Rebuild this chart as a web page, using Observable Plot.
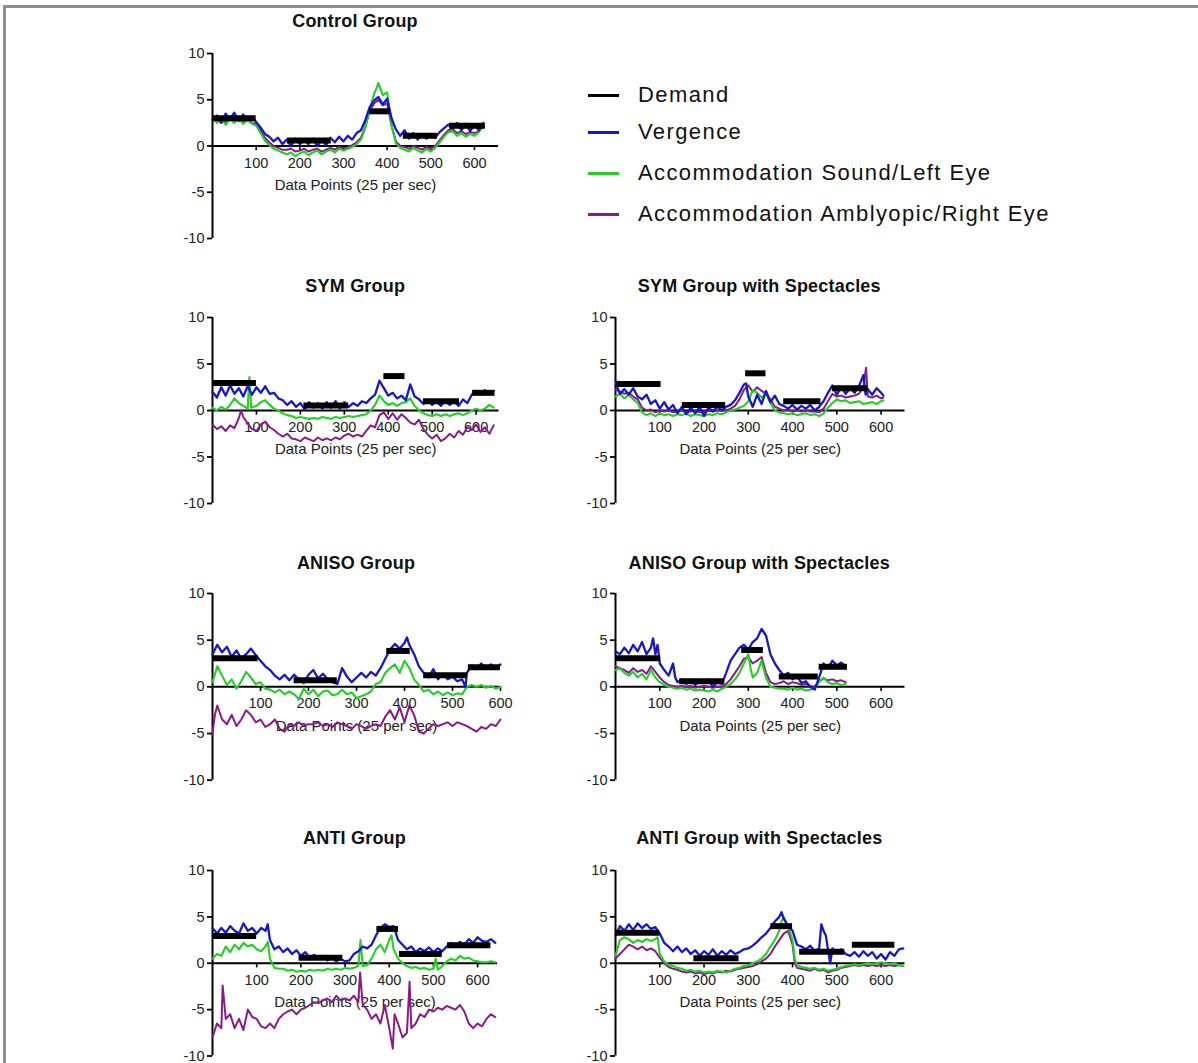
<!DOCTYPE html>
<html>
<head>
<meta charset="utf-8">
<script src="https://cdn.jsdelivr.net/npm/d3@7"></script>
<script src="https://cdn.jsdelivr.net/npm/@observablehq/plot@0.6"></script>
<style>
  html, body { margin: 0; padding: 0; background: #fff; }
  #page { position: relative; width: 1198px; height: 1063px; overflow: hidden; font-family: 'Liberation Sans', Arial, sans-serif; }
  #frame { position: absolute; left: 3px; top: 5px; width: 1300px; height: 1200px; border-top: 3px solid #8e8e8e; border-left: 3px solid #8e8e8e; }
  .title { position: absolute; width: 400px; text-align: center; font-weight: bold; font-size: 18px; line-height: 22px; color: #111; letter-spacing: 0.2px; }
  .panel { position: absolute; }
  .leg { position: absolute; left: 588px; height: 40px; }
  .leg .sw { position: absolute; left: 0; width: 31px; height: 3px; }
  .leg .lab { position: absolute; left: 50px; font-size: 22px; letter-spacing: 1.4px; color: #111; white-space: nowrap; line-height: 26px; }
</style>
</head>
<body>
<div id="page"><div id="frame"></div></div>
<script>
// ---------- series colours / names ----------
const seriesNames = ["Demand", "Vergence", "Accommodation Sound/Left Eye", "Accommodation Amblyopic/Right Eye"];
const seriesColors = ["#000000", "#1616d0", "#22d022", "#8a1a8a"];
const yTicks = [-10, -5, 0, 5, 10];
const xTicks = [100, 200, 300, 400, 500, 600];
const xLabel = "Data Points (25 per sec)";

// ---------- Control Group ----------
const controlV = [[0,2.8],[10,3.3],[20,2.5],[30,3.5],[40,2.9],[50,3.6],[60,2.7],[70,3.4],[80,2.8],[90,3.2],[100,2.6],[110,2.0],[120,1.3],[130,1.0],[140,0.5],[150,0.9],[160,0.2],[170,0.7],[180,0.0],[190,0.8],[200,0.2],[210,0.7],[220,0.2],[230,0.8],[240,0.0],[250,0.6],[260,0.1],[270,0.9],[280,0.4],[290,1.0],[300,0.5],[310,1.1],[320,0.7],[330,1.4],[340,1.7],[350,2.8],[360,4.2],[370,4.9],[380,5.3],[390,4.5],[400,5.1],[410,3.0],[420,1.8],[430,1.1],[440,1.7],[450,0.8],[460,1.4],[470,0.7],[480,1.3],[490,0.8],[500,1.2],[510,0.9],[520,1.5],[530,1.9],[540,2.3],[550,1.9],[560,2.5],[570,1.7],[580,2.4],[590,1.6],[600,2.3],[610,1.7],[620,2.5]];
const controlS = [[0,3.1],[10,2.5],[20,2.9],[30,2.3],[40,2.9],[50,2.5],[60,3.0],[70,2.4],[80,2.8],[90,2.4],[100,2.2],[110,1.4],[120,0.6],[130,0.1],[140,-0.3],[150,-0.5],[160,-0.7],[170,-0.9],[180,-0.7],[190,-1.1],[200,-0.8],[210,-0.6],[220,-1.0],[230,-0.7],[240,-0.5],[250,-0.9],[260,-0.6],[270,-0.4],[280,-0.7],[290,-0.3],[300,-0.5],[310,-0.3],[320,-0.1],[330,0.2],[340,0.7],[350,2.0],[360,4.0],[370,5.6],[380,6.8],[390,5.5],[400,5.8],[410,2.3],[420,0.3],[430,-0.2],[440,-0.4],[450,-0.6],[460,-0.2],[470,-0.5],[480,-0.7],[490,-0.3],[500,-0.6],[510,-0.2],[520,0.4],[530,1.0],[540,1.5],[550,1.6],[560,1.1],[570,1.4],[580,1.0],[590,1.3],[600,1.1],[610,1.5],[620,2.3]];
const controlA = [[0,2.9],[10,2.7],[20,3.0],[30,2.6],[40,3.0],[50,2.7],[60,3.1],[70,2.6],[80,2.9],[90,2.5],[100,2.4],[110,1.7],[120,0.9],[130,0.4],[140,0.0],[150,-0.2],[160,-0.4],[170,-0.4],[180,-0.3],[190,-0.6],[200,-0.5],[210,-0.3],[220,-0.6],[230,-0.4],[240,-0.3],[250,-0.6],[260,-0.4],[270,-0.2],[280,-0.4],[290,-0.1],[300,-0.3],[310,-0.1],[320,0.1],[330,0.4],[340,0.9],[350,2.1],[360,3.8],[370,4.6],[380,5.0],[390,4.4],[400,4.6],[410,2.2],[420,0.5],[430,0.0],[440,-0.1],[450,-0.3],[460,0.0],[470,-0.2],[480,-0.4],[490,-0.1],[500,-0.3],[510,0.0],[520,0.6],[530,1.2],[540,1.7],[550,1.8],[560,1.4],[570,1.6],[580,1.3],[590,1.5],[600,1.4],[610,1.6],[620,2.1]];
const controlD = [[0,100,3.0],[172,272,0.6],[360,407,3.75],[437,515,1.1],[543,625,2.2]];

// ---------- SYM Group ----------
const symV = [[0,2.0],[10,1.4],[20,2.5],[30,1.6],[40,2.7],[50,1.8],[60,2.4],[70,1.5],[80,2.6],[90,1.7],[100,2.5],[110,1.9],[120,2.6],[130,1.8],[140,1.9],[150,1.3],[160,1.1],[170,0.6],[180,1.0],[190,0.4],[200,0.8],[210,0.1],[220,0.9],[230,0.3],[240,0.8],[250,0.2],[260,0.9],[270,0.3],[280,1.0],[290,0.2],[300,0.9],[310,0.4],[320,0.8],[330,0.5],[340,1.0],[350,0.8],[360,1.3],[370,1.7],[380,3.2],[390,2.4],[400,1.6],[410,1.9],[420,1.3],[430,1.6],[440,1.1],[450,2.8],[460,1.5],[470,1.2],[480,0.7],[490,1.1],[500,0.6],[510,1.0],[520,0.5],[530,1.1],[540,0.6],[550,1.0],[560,0.5],[570,1.2],[580,0.8],[590,1.7],[600,2.1],[610,1.7],[620,2.2],[630,1.8],[640,2.1]];
const symS = [[0,0.3],[10,0.0],[20,0.4],[30,0.1],[40,0.6],[50,1.3],[60,0.8],[70,0.5],[80,0.2],[84,3.6],[88,0.3],[100,0.5],[110,0.9],[120,1.1],[130,0.6],[140,0.2],[150,0.0],[160,-0.3],[170,-0.5],[180,-0.6],[190,-0.8],[200,-0.7],[210,-0.8],[220,-0.9],[230,-0.8],[240,-0.9],[250,-0.7],[260,-0.8],[270,-0.9],[280,-0.7],[290,-0.8],[300,-0.7],[310,-0.6],[320,-0.7],[330,-0.6],[340,-0.5],[350,-0.4],[360,0.0],[370,0.6],[380,1.6],[390,1.0],[400,0.6],[410,0.8],[420,0.5],[430,0.8],[440,0.9],[450,1.3],[460,0.5],[470,0.0],[480,-0.3],[490,-0.5],[500,-0.6],[510,-0.4],[520,-0.6],[530,-0.4],[540,-0.6],[550,-0.4],[560,-0.3],[570,-0.5],[580,-0.3],[590,0.0],[600,0.2],[610,0.0],[620,0.2],[630,0.6],[640,0.3]];
const symA = [[0,-1.5],[10,-2.0],[20,-1.7],[30,-2.2],[40,-1.6],[50,-1.9],[60,-0.8],[65,0.0],[70,-0.7],[80,-1.4],[90,-2.0],[100,-2.2],[110,-1.5],[120,-1.2],[130,-1.8],[140,-2.1],[150,-2.5],[160,-2.8],[170,-2.5],[180,-3.0],[190,-3.1],[200,-3.3],[210,-2.9],[220,-3.1],[230,-3.3],[240,-2.9],[250,-3.2],[260,-3.0],[270,-3.2],[280,-2.9],[290,-3.1],[300,-2.7],[310,-2.5],[320,-2.8],[330,-2.6],[340,-2.8],[350,-2.2],[360,-1.6],[370,-1.8],[380,-0.5],[390,-0.2],[400,-0.9],[410,-0.3],[420,-1.0],[430,-0.4],[440,-0.8],[450,-1.3],[460,-1.5],[470,-1.0],[480,-2.0],[490,-2.6],[500,-3.0],[510,-2.6],[520,-3.3],[530,-3.0],[540,-2.5],[550,-2.9],[560,-2.2],[570,-2.6],[580,-1.8],[590,-2.1],[600,-1.5],[610,-2.3],[620,-1.8],[630,-2.5],[640,-1.6]];
const symD = [[0,100,2.95],[208,310,0.55],[390,438,3.7],[480,562,1.0],[592,643,1.9]];

// ---------- SYM Group with Spectacles ----------
const symSpV = [[0,3.2],[5,2.4],[10,1.8],[20,2.3],[30,1.7],[40,2.4],[50,1.5],[60,1.2],[70,1.7],[80,0.7],[90,1.1],[100,0.2],[110,0.9],[120,0.1],[130,0.6],[140,-0.3],[150,0.4],[160,-0.4],[170,0.3],[180,-0.3],[190,0.4],[200,-0.6],[210,0.3],[220,-0.1],[230,0.4],[240,0.0],[250,0.4],[260,0.6],[270,1.1],[280,1.9],[290,2.8],[295,2.9],[300,1.5],[310,0.4],[320,1.7],[330,0.7],[340,2.1],[350,0.9],[360,1.6],[370,0.7],[380,0.5],[390,0.2],[400,0.6],[410,0.1],[420,0.5],[430,0.2],[440,0.6],[450,0.0],[460,0.4],[470,1.0],[480,1.9],[490,2.7],[500,1.7],[510,2.5],[520,1.8],[530,2.4],[540,1.9],[550,2.6],[560,3.8],[565,1.7],[570,2.3],[580,1.7],[590,2.4],[600,1.9],[605,1.6]];
const symSpS = [[0,1.5],[10,1.8],[20,1.3],[30,1.7],[40,1.2],[50,0.8],[60,-0.2],[70,-0.5],[80,-0.3],[90,-0.6],[100,-0.3],[110,-0.5],[120,-0.4],[130,-0.6],[140,-0.4],[150,-0.5],[160,-0.3],[170,-0.6],[180,-0.4],[190,-0.5],[200,-0.6],[210,-0.4],[220,-0.5],[230,-0.3],[240,-0.4],[250,-0.2],[260,0.0],[270,0.1],[280,0.3],[290,0.5],[300,1.0],[310,2.2],[320,1.9],[330,1.4],[340,1.8],[350,0.8],[360,0.0],[370,-0.2],[380,-0.3],[390,-0.4],[400,-0.3],[410,-0.5],[420,-0.4],[430,-0.3],[440,-0.5],[450,-0.4],[460,-0.6],[470,-0.3],[480,0.3],[490,0.8],[500,1.2],[510,1.0],[520,1.1],[530,0.8],[540,0.9],[550,1.0],[560,0.7],[570,0.8],[580,0.9],[590,0.7],[600,1.0],[605,1.1]];
const symSpA = [[0,2.3],[10,2.0],[20,1.8],[30,1.9],[40,1.5],[50,1.2],[60,0.3],[70,0.0],[80,0.1],[90,-0.2],[100,0.0],[110,-0.1],[120,0.0],[130,-0.2],[140,-0.1],[150,0.0],[160,-0.2],[170,-0.1],[180,0.0],[190,-0.2],[200,-0.1],[210,0.0],[220,-0.1],[230,0.0],[240,0.1],[250,0.0],[260,0.2],[270,0.5],[280,1.2],[290,2.2],[300,2.7],[310,2.0],[320,2.5],[330,2.1],[340,1.8],[350,1.2],[360,0.4],[370,0.2],[380,0.0],[390,0.1],[400,-0.1],[410,0.0],[420,-0.1],[430,0.0],[440,-0.1],[450,-0.1],[460,-0.2],[470,0.2],[480,1.0],[490,1.8],[500,1.5],[510,1.6],[520,1.4],[530,1.5],[540,1.6],[550,1.8],[560,2.5],[566,4.6],[570,1.5],[580,1.4],[590,1.6],[600,1.3],[605,1.4]];
const symSpD = [[3,103,2.85],[151,249,0.6],[294,340,4.0],[380,464,1.0],[490,570,2.4]];

// ---------- ANISO Group ----------
const anisoV = [[0,3.5],[10,4.5],[20,3.7],[30,4.3],[40,3.2],[50,3.9],[60,3.0],[70,3.5],[80,4.1],[90,3.4],[100,2.8],[110,2.2],[120,1.8],[130,1.2],[140,0.8],[150,1.3],[160,0.7],[170,1.3],[180,0.8],[190,0.4],[200,1.3],[210,1.8],[220,0.9],[230,1.4],[240,0.8],[250,0.5],[260,0.3],[270,2.0],[280,1.1],[290,0.5],[300,1.0],[310,1.5],[320,1.0],[330,1.6],[340,1.2],[350,2.0],[360,3.0],[370,4.0],[380,4.6],[390,4.1],[400,4.7],[405,5.3],[410,4.5],[420,3.5],[430,2.2],[440,1.5],[450,1.0],[460,1.9],[470,0.8],[480,1.4],[490,0.8],[500,1.1],[510,0.6],[520,0.8],[527,0.0],[530,1.5],[540,2.3],[550,1.9],[560,2.5],[570,2.0],[580,2.4],[590,1.9],[600,2.4]];
const anisoS = [[0,0.5],[10,2.2],[20,1.2],[30,0.2],[40,0.8],[50,-0.2],[60,0.6],[70,1.6],[80,1.0],[90,0.3],[100,0.5],[110,-0.2],[120,-0.3],[130,-0.6],[140,-0.3],[150,-0.8],[160,-0.5],[170,-0.8],[180,-1.3],[190,-0.2],[200,-0.8],[210,-0.3],[220,-1.0],[230,-0.5],[240,-0.4],[250,-0.9],[260,-0.8],[270,-0.3],[280,-0.8],[290,-0.6],[300,-1.2],[310,-1.0],[320,-0.8],[330,-0.5],[340,0.3],[350,0.5],[360,1.5],[370,2.0],[380,2.4],[390,1.5],[400,2.8],[410,2.0],[420,0.8],[430,0.2],[440,-0.5],[450,-0.3],[460,-0.8],[470,-0.5],[480,-0.9],[490,-0.6],[500,-0.9],[510,-0.7],[520,-0.8],[530,0.0],[540,0.2],[550,0.0],[560,0.2],[570,-0.1],[580,0.1],[590,-0.2],[600,0.0]];
const anisoA = [[0,-5.0],[5,-3.0],[10,-2.0],[20,-3.5],[30,-4.0],[40,-3.0],[50,-4.2],[60,-3.5],[70,-2.5],[80,-3.0],[90,-3.8],[100,-3.5],[110,-4.3],[120,-4.0],[130,-3.5],[140,-4.5],[150,-4.8],[160,-4.0],[170,-4.2],[180,-3.8],[190,-4.2],[200,-4.0],[210,-4.0],[220,-3.8],[230,-4.2],[240,-4.0],[250,-4.3],[260,-3.8],[270,-4.0],[280,-4.2],[290,-4.5],[300,-4.0],[310,-4.2],[320,-4.5],[330,-4.2],[340,-4.0],[350,-4.2],[360,-3.2],[370,-2.5],[380,-3.5],[390,-2.2],[400,-3.8],[410,-2.0],[420,-3.0],[430,-4.8],[440,-5.0],[450,-4.5],[460,-4.0],[470,-4.2],[480,-4.0],[490,-3.8],[500,-4.2],[510,-3.8],[520,-4.0],[530,-4.2],[540,-4.5],[550,-4.8],[560,-4.3],[570,-4.5],[580,-4.0],[590,-4.2],[600,-3.5]];
const anisoD = [[0,95,3.05],[170,260,0.7],[363,412,3.85],[440,531,1.25],[533,600,2.1]];

// ---------- ANISO Group with Spectacles ----------
const anisoSpV = [[0,3.8],[10,3.5],[20,4.2],[30,3.6],[40,4.5],[50,3.8],[60,4.8],[70,3.5],[80,4.2],[85,5.2],[90,3.5],[95,4.5],[100,2.5],[110,1.8],[120,1.2],[130,2.5],[135,1.0],[140,0.5],[150,0.8],[160,0.3],[170,0.8],[180,0.2],[190,0.6],[200,0.4],[210,0.8],[220,0.0],[230,0.5],[240,0.3],[250,1.5],[260,2.8],[270,3.5],[280,4.2],[290,4.5],[300,4.0],[310,4.8],[320,5.2],[330,6.2],[340,5.5],[350,3.5],[360,2.5],[370,1.8],[380,1.2],[390,1.5],[400,0.8],[410,1.2],[420,0.4],[430,0.6],[440,0.0],[450,-0.3],[460,1.0],[470,2.5],[480,2.0],[490,2.8],[500,2.3],[510,2.6],[520,2.2]];
const anisoSpS = [[0,1.8],[10,2.0],[20,1.5],[30,1.2],[40,1.6],[50,1.0],[60,1.4],[70,0.8],[80,1.8],[90,1.0],[100,0.5],[110,0.2],[120,0.0],[130,-0.1],[140,-0.2],[150,-0.1],[160,-0.3],[170,-0.2],[180,-0.4],[190,-0.3],[200,-0.4],[210,-0.5],[220,-0.3],[230,-0.5],[240,-0.2],[250,0.0],[260,0.3],[270,0.8],[280,1.5],[290,2.5],[300,3.5],[305,2.0],[310,1.0],[320,1.5],[330,2.8],[340,1.0],[350,0.0],[360,-0.1],[370,-0.2],[380,-0.2],[390,-0.3],[400,-0.1],[410,-0.3],[420,-0.2],[430,-0.4],[440,-0.3],[450,-0.2],[460,0.5],[470,1.0],[480,0.5],[490,0.3],[500,0.4],[510,0.2],[520,0.3]];
const anisoSpA = [[0,2.2],[10,2.0],[20,1.8],[30,1.5],[40,2.0],[50,1.6],[60,1.8],[70,1.4],[80,2.2],[90,1.6],[100,1.0],[110,0.5],[120,0.2],[130,0.1],[140,0.0],[150,0.1],[160,0.0],[170,0.1],[180,-0.1],[190,0.0],[200,0.1],[210,0.0],[220,-0.1],[230,0.0],[240,0.0],[250,0.3],[260,0.8],[270,1.5],[280,2.2],[290,3.0],[300,3.2],[310,2.5],[320,2.8],[330,3.2],[340,1.5],[350,0.5],[360,0.3],[370,0.4],[380,0.6],[390,0.3],[400,0.5],[410,0.4],[420,0.2],[430,0.3],[440,0.1],[450,0.0],[460,0.6],[470,0.9],[480,0.7],[490,0.8],[500,0.6],[510,0.7],[520,0.5]];
const anisoSpD = [[2,102,3.05],[145,247,0.6],[285,334,3.95],[370,458,1.1],[460,524,2.15]];

// ---------- ANTI Group ----------
const antiV = [[0,3.8],[10,3.2],[20,3.8],[30,3.3],[40,4.0],[50,3.5],[60,3.2],[70,4.3],[80,3.5],[90,3.8],[100,3.2],[110,3.8],[120,3.5],[125,4.2],[130,2.5],[140,1.5],[150,1.8],[160,1.2],[170,1.6],[180,1.0],[190,1.4],[200,0.8],[210,1.2],[220,0.6],[230,0.9],[240,0.5],[250,0.8],[260,0.3],[270,0.7],[280,0.2],[290,0.5],[300,0.2],[310,0.3],[320,1.0],[330,1.3],[340,1.8],[350,1.6],[360,2.0],[370,3.0],[380,3.8],[390,4.2],[400,3.9],[410,4.0],[420,2.5],[430,2.0],[440,1.5],[450,1.8],[460,1.2],[470,1.6],[480,1.3],[490,1.7],[500,1.2],[510,1.6],[520,1.3],[530,1.8],[540,2.2],[550,1.8],[560,2.3],[570,2.0],[580,2.6],[590,2.2],[600,2.8],[610,2.4],[620,2.3],[630,2.6],[640,2.2]];
const antiS = [[0,0.5],[10,1.0],[20,0.8],[30,1.8],[40,1.2],[50,2.0],[60,1.5],[70,2.2],[80,1.8],[90,2.0],[100,1.5],[110,1.3],[120,1.8],[125,2.3],[130,0.5],[140,-0.5],[150,-0.6],[160,-0.6],[170,-0.8],[180,-0.7],[190,-0.9],[200,-0.8],[210,-0.9],[220,-0.7],[230,-0.8],[240,-0.7],[250,-0.8],[260,-0.6],[270,-0.7],[280,-0.6],[290,-0.7],[300,-0.5],[310,-0.6],[320,-0.5],[330,-0.3],[335,2.5],[340,-0.3],[350,-0.2],[360,0.5],[370,1.5],[380,2.0],[390,1.2],[400,2.5],[405,3.0],[410,1.5],[420,0.5],[430,0.0],[440,-0.3],[450,-0.5],[460,-0.4],[470,-0.6],[480,-0.5],[490,-0.7],[500,-0.6],[505,0.5],[510,-0.7],[520,-0.3],[530,0.2],[540,0.5],[550,0.3],[560,0.8],[570,0.5],[580,0.6],[590,0.3],[600,0.2],[610,0.1],[620,0.1],[630,0.2],[640,0.1]];
const antiA = [[0,-8.0],[10,-6.5],[20,-7.0],[23,-2.4],[30,-6.0],[40,-5.5],[50,-7.0],[60,-6.0],[70,-7.2],[80,-5.0],[90,-5.8],[100,-6.0],[110,-6.8],[120,-7.0],[130,-6.5],[140,-7.0],[150,-6.0],[160,-5.5],[170,-5.2],[180,-5.0],[190,-5.5],[200,-5.0],[210,-4.8],[220,-4.5],[230,-4.2],[240,-4.3],[250,-4.0],[260,-3.8],[270,-4.2],[280,-3.5],[290,-4.0],[300,-3.8],[310,-4.0],[320,-3.5],[330,-4.2],[334,-1.0],[340,-4.5],[350,-5.0],[360,-6.0],[370,-5.5],[380,-6.5],[390,-4.5],[400,-7.0],[408,-9.2],[412,-5.5],[420,-6.5],[430,-8.0],[440,-7.5],[446,-2.0],[450,-7.0],[460,-6.5],[470,-5.5],[480,-5.8],[490,-5.0],[500,-5.2],[510,-4.8],[520,-5.0],[530,-4.6],[540,-4.8],[550,-5.0],[560,-4.5],[570,-5.2],[580,-6.5],[590,-7.0],[600,-6.5],[610,-6.8],[620,-6.0],[630,-5.5],[640,-5.8]];
const antiD = [[0,100,2.95],[196,295,0.6],[372,421,3.7],[423,520,1.0],[532,630,1.95]];

// ---------- ANTI Group with Spectacles ----------
const antiSpV = [[0,3.0],[10,4.0],[20,3.5],[30,4.2],[40,3.6],[50,4.3],[60,3.8],[70,4.2],[80,3.7],[90,3.9],[100,3.2],[110,2.2],[120,1.8],[130,1.3],[140,1.8],[150,1.2],[160,1.6],[170,1.0],[180,1.4],[190,0.8],[200,1.3],[210,0.9],[220,1.5],[230,0.8],[240,1.3],[250,0.9],[260,1.4],[270,1.0],[280,1.2],[290,1.5],[300,1.6],[310,1.9],[320,2.3],[330,2.8],[340,3.2],[350,3.8],[360,4.5],[370,5.0],[375,5.5],[380,4.8],[390,4.0],[400,3.5],[410,2.0],[420,1.8],[430,1.5],[440,1.9],[450,1.3],[460,1.6],[465,4.2],[470,3.5],[475,3.0],[480,1.5],[485,0.0],[490,1.6],[500,1.2],[510,1.5],[520,1.0],[530,0.8],[540,1.2],[550,0.7],[560,1.3],[570,0.8],[580,1.2],[590,0.5],[600,1.0],[610,0.4],[620,1.2],[630,0.8],[640,1.5],[650,1.6]];
const antiSpS = [[0,0.8],[10,2.5],[20,2.8],[30,2.6],[40,2.2],[50,2.5],[60,2.3],[70,2.6],[80,2.4],[90,2.6],[95,2.8],[100,1.0],[110,0.2],[120,-0.2],[130,-0.3],[140,-0.5],[150,-0.6],[160,-0.8],[170,-0.7],[180,-0.9],[190,-0.8],[200,-1.0],[210,-0.9],[220,-1.0],[230,-0.8],[240,-0.9],[250,-1.0],[260,-0.8],[270,-0.6],[280,-0.5],[290,-0.3],[300,-0.2],[310,0.0],[320,0.2],[330,0.5],[340,1.0],[350,1.8],[360,2.5],[370,3.5],[375,4.5],[380,5.0],[390,4.0],[400,2.5],[405,0.5],[410,-0.2],[420,-0.4],[430,-0.5],[440,-0.6],[450,-0.5],[460,-0.7],[470,-0.6],[480,-0.8],[490,-0.7],[500,-0.6],[510,-0.4],[520,-0.3],[530,-0.2],[540,-0.1],[550,-0.2],[560,-0.1],[570,0.0],[580,-0.1],[590,0.0],[600,0.1],[610,0.0],[620,-0.1],[630,0.0],[640,-0.2],[650,-0.3]];
const antiSpA = [[0,0.5],[10,1.0],[20,1.5],[30,2.0],[40,1.8],[50,1.5],[60,1.8],[70,1.4],[80,1.6],[90,1.3],[100,0.6],[110,0.0],[120,-0.4],[130,-0.6],[140,-0.7],[150,-0.9],[160,-1.0],[170,-0.9],[180,-1.1],[190,-1.0],[200,-1.2],[210,-1.0],[220,-1.1],[230,-0.9],[240,-1.0],[250,-0.8],[260,-0.9],[270,-0.7],[280,-0.6],[290,-0.5],[300,-0.4],[310,-0.3],[320,-0.1],[330,0.2],[340,0.5],[350,1.0],[360,1.8],[370,2.5],[380,3.2],[390,3.5],[400,2.0],[405,0.0],[410,-0.5],[420,-0.6],[430,-0.7],[440,-0.8],[450,-0.6],[460,-0.8],[470,-0.7],[480,-1.0],[490,-0.8],[500,-0.7],[510,-0.5],[520,-0.4],[530,-0.3],[540,-0.2],[550,-0.3],[560,-0.2],[570,-0.3],[580,-0.2],[590,-0.3],[600,-0.2],[610,-0.3],[620,-0.2],[630,-0.3],[640,-0.2],[650,-0.3]];
const antiSpD = [[0,100,3.3],[177,279,0.55],[351,400,4.0],[416,518,1.25],[535,631,2.0]];

// ---------- layout (pixel geometry of each panel) ----------
const panels = [
  {title: "Control Group", x0: 212, xEnd: 498, xMax: 655, yTop: 52.5, yBot: 237.5, titleY: 21, V: controlV, S: controlS, A: controlA, D: controlD},
  {title: "SYM Group", x0: 212, xEnd: 498.5, xMax: 652, yTop: 317.3, yBot: 503.3, titleY: 286, V: symV, S: symS, A: symA, D: symD},
  {title: "SYM Group with Spectacles", x0: 614.5, xEnd: 904, xMax: 654, yTop: 317.3, yBot: 503.3, titleY: 286, V: symSpV, S: symSpS, A: symSpA, D: symSpD},
  {title: "ANISO Group", x0: 212, xEnd: 500, xMax: 600, yTop: 593.3, yBot: 780, titleY: 563, V: anisoV, S: anisoS, A: anisoA, D: anisoD},
  {title: "ANISO Group with Spectacles", x0: 614.5, xEnd: 904, xMax: 654, yTop: 593.3, yBot: 780, titleY: 563, V: anisoSpV, S: anisoSpS, A: anisoSpA, D: anisoSpD},
  {title: "ANTI Group", x0: 212, xEnd: 497, xMax: 645, yTop: 869.5, yBot: 1055, titleY: 838, V: antiV, S: antiS, A: antiA, D: antiD},
  {title: "ANTI Group with Spectacles", x0: 614.5, xEnd: 904, xMax: 654, yTop: 869.5, yBot: 1055, titleY: 838, V: antiSpV, S: antiSpS, A: antiSpA, D: antiSpD}
];

const page = document.getElementById("page");
const ML = 45, MR = 12, MT = 6, MB = 8;
const font = "'Liberation Sans', Arial, sans-serif";

for (const p of panels) {
  const w = ML + (p.xEnd - p.x0) + MR;
  const h = MT + (p.yBot - p.yTop) + MB;
  const chart = Plot.plot({
    width: w, height: h,
    marginLeft: ML, marginRight: MR, marginTop: MT, marginBottom: MB,
    x: {domain: [0, p.xMax], axis: null},
    y: {domain: [-10, 10]},
    style: {overflow: "visible", fontFamily: font, background: "transparent"},
    marks: [
      Plot.axisY(yTicks, {anchor: "left", tickSize: 5, tickPadding: 3, tickFormat: d => String(d), fontSize: 14.5, strokeWidth: 1.8, stroke: "#000", fill: "#222", label: null}),
      Plot.ruleX([0], {stroke: "#000", strokeWidth: 2}),
      Plot.ruleY([0], {stroke: "#000", strokeWidth: 2}),
      Plot.ruleX(xTicks, {x: d => d, y1: 0, y2: -0.5, stroke: "#000", strokeWidth: 1.6}),
      Plot.text(xTicks, {x: d => d, y: 0, dy: 17, text: d => String(d), fontSize: 14.5, fill: "#222", letterSpacing: 0.3}),
      Plot.text([xLabel], {x: p.xMax / 2, y: 0, dy: 39, text: d => d, fontSize: 15, fill: "#222", letterSpacing: 0.4}),
      Plot.line(p.A, {x: d => d[0], y: d => d[1], stroke: seriesColors[3], strokeWidth: 2}),
      Plot.line(p.S, {x: d => d[0], y: d => d[1], stroke: seriesColors[2], strokeWidth: 2.1}),
      Plot.line(p.V, {x: d => d[0], y: d => d[1], stroke: seriesColors[1], strokeWidth: 2.3}),
      Plot.ruleY(p.D, {x1: d => d[0], x2: d => d[1], y: d => d[2], stroke: seriesColors[0], strokeWidth: 6})
    ]
  });
  const holder = document.createElement("div");
  holder.className = "panel";
  holder.style.left = (p.x0 - ML) + "px";
  holder.style.top = (p.yTop - MT) + "px";
  holder.appendChild(chart);
  page.appendChild(holder);

  const t = document.createElement("div");
  t.className = "title";
  t.textContent = p.title;
  const cx = p.x0 + (p.xEnd - p.x0) * ((p.xMax / 2) / p.xMax);
  t.style.left = (cx - 200) + "px";
  t.style.top = (p.titleY - 11) + "px";
  page.appendChild(t);
}

// ---------- legend ----------
const legendY = [95, 132, 173, 214];
seriesNames.forEach((name, i) => {
  const g = document.createElement("div");
  g.className = "leg";
  g.style.top = (legendY[i] - 20) + "px";
  const sw = document.createElement("div");
  sw.className = "sw";
  sw.style.top = "19px";
  sw.style.background = seriesColors[i];
  const lab = document.createElement("div");
  lab.className = "lab";
  lab.style.top = "7px";
  lab.textContent = name;
  g.appendChild(sw); g.appendChild(lab);
  page.appendChild(g);
});
</script>
</body>
</html>
